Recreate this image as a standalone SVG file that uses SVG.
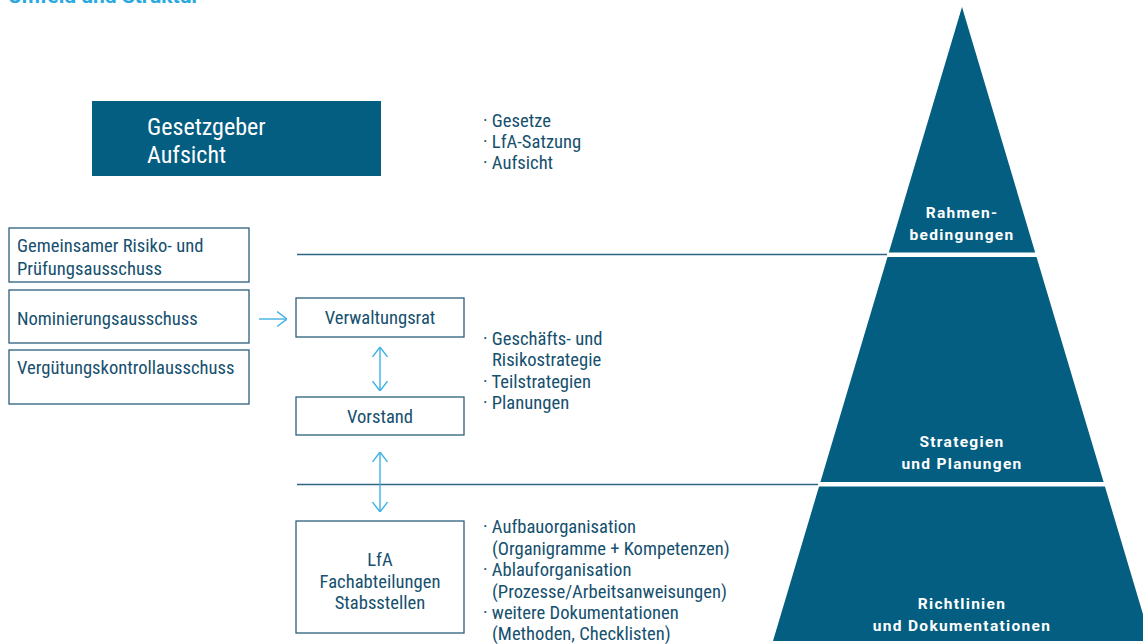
<svg xmlns="http://www.w3.org/2000/svg" width="1143" height="644" viewBox="0 0 1143 644">
<defs>
<style>
.t{font-family:Roboto,"Liberation Sans",sans-serif;font-stretch:condensed;fill:#15506e;font-size:18.6px}
.w{font-family:Roboto,"Liberation Sans",sans-serif;font-stretch:condensed;fill:#ffffff;font-size:24px}
.pb{font-family:Roboto,"Liberation Sans",sans-serif;font-weight:bold;fill:#ffffff;font-size:15.5px;letter-spacing:1.3px;text-anchor:middle}
.box{fill:#ffffff;stroke:#2c5f7b;stroke-width:1.3}
.arr{stroke:#3fb1e5;stroke-width:1.4;fill:none}
.sep{stroke:#2f6482;stroke-width:1.4}
</style>
<marker id="ah" viewBox="0 0 10 16" refX="10" refY="8" markerWidth="10" markerHeight="16" markerUnits="userSpaceOnUse" orient="auto-start-reverse">
<path d="M0,0.5 L10,8 L0,15.5" fill="none" stroke="#3fb1e5" stroke-width="1.4"/>
</marker>
</defs>
<rect width="1143" height="644" fill="#ffffff"/>
<text x="8" y="3" style="font-family:Roboto,'Liberation Sans',sans-serif;font-weight:bold;font-size:21px;fill:#2aa9e1">Umfeld und Struktur</text>

<g id="pyramid">
<polygon points="962,7 1151,641 773,641" fill="#045e81"/>
<line x1="770" y1="254.8" x2="1143" y2="254.8" stroke="#ffffff" stroke-width="4.5"/>
<line x1="770" y1="484.2" x2="1143" y2="484.2" stroke="#ffffff" stroke-width="4.5"/>
<text class="pb" x="962" y="218">Rahmen-</text>
<text class="pb" x="962" y="240">bedingungen</text>
<text class="pb" x="962" y="446.5">Strategien</text>
<text class="pb" x="962" y="469">und Planungen</text>
<text class="pb" x="962" y="608.5">Richtlinien</text>
<text class="pb" x="962" y="631">und Dokumentationen</text>
</g>

<g id="connectors">
<line class="sep" x1="297" y1="254.5" x2="887" y2="254.5"/>
<line class="sep" x1="297" y1="484.5" x2="818" y2="484.5"/>
<line class="arr" x1="259" y1="319" x2="287" y2="319" marker-end="url(#ah)"/>
<line class="arr" x1="380" y1="347" x2="380" y2="391" marker-start="url(#ah)" marker-end="url(#ah)"/>
<line class="arr" x1="380" y1="452" x2="380" y2="512" marker-start="url(#ah)" marker-end="url(#ah)"/>
</g>

<g id="gesetzgeber">
<rect x="92" y="101" width="289" height="75" fill="#045e81"/>
<text class="w" x="147" y="134.5">Gesetzgeber</text>
<text class="w" x="147" y="163">Aufsicht</text>
</g>

<g id="bullets1">
<text class="t" x="483" y="127">· Gesetze</text>
<text class="t" x="483" y="148">· LfA-Satzung</text>
<text class="t" x="483" y="169">· Aufsicht</text>
</g>

<g id="risiko">
<rect class="box" x="9" y="228" width="240" height="54"/>
<text class="t" x="17" y="252">Gemeinsamer Risiko- und</text>
<text class="t" x="17" y="275">Prüfungsausschuss</text>
</g>
<g id="nominierung">
<rect class="box" x="9" y="290" width="240" height="53"/>
<text class="t" x="17" y="325">Nominierungsausschuss</text>
</g>
<g id="verguetung">
<rect class="box" x="9" y="350" width="240" height="54"/>
<text class="t" x="17" y="374">Vergütungskontrollausschuss</text>
</g>

<g id="verwaltungsrat">
<rect class="box" x="296" y="298" width="168" height="39"/>
<text class="t" x="380" y="324" text-anchor="middle">Verwaltungsrat</text>
</g>
<g id="vorstand">
<rect class="box" x="296" y="397" width="168" height="38"/>
<text class="t" x="380" y="423" text-anchor="middle">Vorstand</text>
</g>
<g id="lfa">
<rect class="box" x="296" y="521" width="168" height="112"/>
<text class="t" x="380" y="566" text-anchor="middle">LfA</text>
<text class="t" x="380" y="588" text-anchor="middle">Fachabteilungen</text>
<text class="t" x="380" y="609" text-anchor="middle">Stabsstellen</text>
</g>

<g id="bullets2">
<text class="t" x="483" y="345">· Geschäfts- und</text>
<text class="t" x="492" y="366">Risikostrategie</text>
<text class="t" x="483" y="388">· Teilstrategien</text>
<text class="t" x="483" y="409">· Planungen</text>
</g>

<g id="bullets3">
<text class="t" x="483" y="533">· Aufbauorganisation</text>
<text class="t" x="492" y="554.5">(Organigramme + Kompetenzen)</text>
<text class="t" x="483" y="576">· Ablauforganisation</text>
<text class="t" x="492" y="597.5">(Prozesse/Arbeitsanweisungen)</text>
<text class="t" x="483" y="619">· weitere Dokumentationen</text>
<text class="t" x="492" y="640">(Methoden, Checklisten)</text>
</g>
</svg>
